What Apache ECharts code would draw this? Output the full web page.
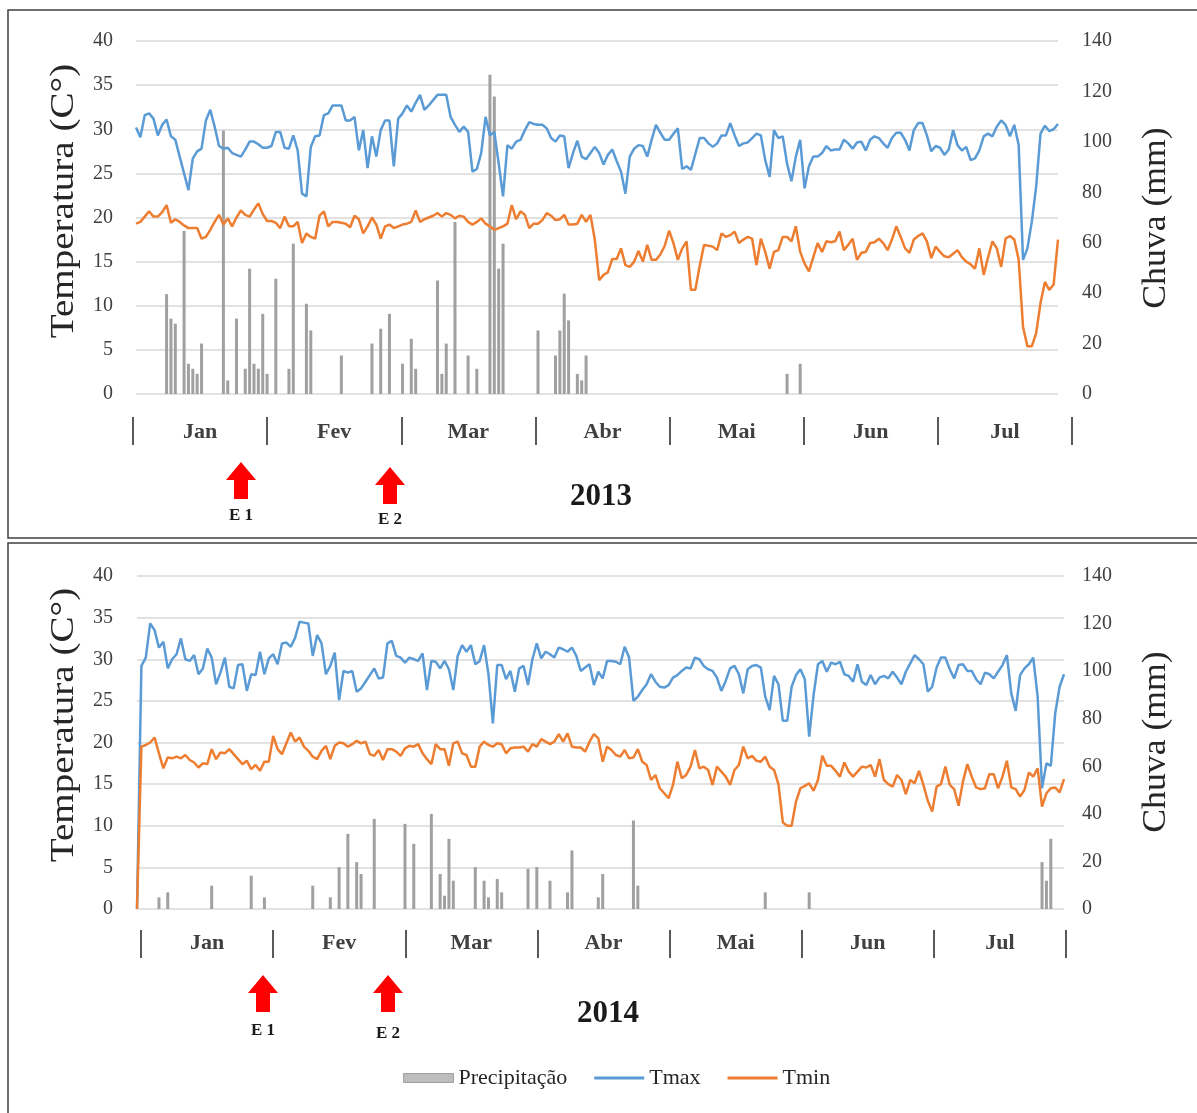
<!DOCTYPE html>
<html>
<head>
<meta charset="utf-8">
<script src="https://cdn.jsdelivr.net/npm/echarts@6/dist/echarts.min.js"></script>
<style>
html, body { margin: 0; padding: 0; background: #fff; }
#main { width: 1197px; height: 1113px; }
</style>
</head>
<body>
<div id="main"></div>
<script>
// categorias
var months = ['Jan', 'Fev', 'Mar', 'Abr', 'Mai', 'Jun', 'Jul'];
var monthDays = [31, 28, 31, 30, 31, 30, 31];

// 2013 - temperatura diaria (C)
var tmax2013 = [
  30.2, 29.1, 31.6, 31.8, 31.2, 29.3, 30.5, 31.1, 29.2, 28.8,
  26.9, 25.0, 23.1, 26.7, 27.5, 27.8, 31.0, 32.2, 30.3, 28.1,
  27.8, 27.9, 27.3, 27.1, 26.9, 27.7, 28.6, 28.6, 28.3, 27.9,
  27.9, 28.1, 29.7, 29.7, 27.9, 27.8, 29.3, 27.6, 22.7, 22.4,
  28.0, 29.2, 29.3, 31.6, 31.8, 32.7, 32.7, 32.7, 31.0, 31.0,
  31.4, 27.6, 29.9, 25.6, 29.2, 26.9, 29.9, 31.0, 31.0, 25.8,
  31.2, 31.8, 32.7, 32.0, 33.0, 33.9, 32.2, 32.7, 33.3, 33.9,
  33.9, 33.9, 31.4,
  30.5, 29.7, 30.3, 29.7, 25.2, 25.5, 27.3, 31.4, 29.3, 29.7,
  26.1, 22.4, 28.2, 27.8, 28.6, 28.8, 29.9, 30.8, 30.6, 30.5,
  30.5, 30.1, 29.0, 28.6, 29.3, 29.2, 25.6, 27.3, 28.7, 26.9,
  26.6, 27.3, 28.0, 27.3, 26.0, 27.1, 27.7, 26.4, 25.2, 22.7,
  26.9, 27.8, 28.2, 28.1, 26.9, 28.8, 30.5, 29.6, 28.8, 28.8,
  29.5, 30.1, 25.5, 25.8, 25.4, 27.2, 29.0, 29.0, 28.4, 28.0,
  28.4, 29.3, 29.3, 30.7, 29.3, 28.1, 28.4, 28.5, 29.0, 29.5,
  29.3, 26.5, 24.6,
  29.9, 29.0, 29.2, 26.1, 24.1, 26.9, 28.8, 23.3, 25.8, 26.9,
  26.9, 27.3, 28.1, 27.6, 27.7, 27.7, 28.8, 28.4, 27.8, 28.5,
  28.6, 27.6, 28.8, 29.2, 29.0, 28.4, 27.9, 29.0, 29.6, 29.6,
  28.8, 27.6, 29.9, 30.7, 30.7, 29.3, 27.5, 28.1, 27.9, 27.1,
  27.7, 29.9, 28.2, 27.6, 28.0, 26.5, 26.7, 27.6, 29.2, 29.5,
  29.2, 30.3, 31.0, 30.5, 29.2, 30.5, 28.2,
  15.2, 16.5, 19.5, 23.5, 29.5, 30.4, 29.8, 30.0, 30.6
];
var tmin2013 = [
  19.3, 19.5, 20.1, 20.7, 20.1, 20.1, 20.6, 21.4, 19.4, 19.8,
  19.5, 19.1, 18.8, 18.8, 18.8, 17.6, 17.8, 18.6, 19.5, 20.3,
  19.2, 19.9, 19.0, 20.0, 20.8, 20.3, 20.1, 20.9, 21.6, 20.4,
  19.6, 19.6, 19.4, 18.8, 20.1, 19.0, 19.0, 19.5, 17.1, 18.2,
  17.8, 17.6, 20.2, 20.7, 19.0, 19.5, 19.5, 19.4, 19.3, 18.9,
  20.2, 19.8, 18.2, 19.0, 20.0, 19.2, 17.6, 19.0, 19.2, 18.8,
  19.0, 19.2, 19.3, 19.5, 20.8, 19.5, 19.8, 20.0, 20.2, 20.5,
  20.1, 20.5, 20.3,
  19.9, 20.2, 20.1, 19.5, 19.2, 19.5, 19.9, 19.3, 19.0, 18.6,
  18.8, 19.0, 19.3, 21.4, 19.8, 20.7, 20.3, 18.8, 19.3, 19.3,
  19.7, 20.5, 20.2, 19.7, 19.8, 20.3, 19.2, 19.2, 19.3, 20.3,
  19.5, 20.3, 17.5, 12.9, 13.5, 13.8, 15.3, 15.3, 16.5, 14.6,
  14.4, 15.0, 16.2, 15.0, 16.9, 15.2, 15.2, 15.8, 16.8, 18.5,
  17.1, 15.2, 16.5, 17.3, 11.8, 11.8, 14.5, 16.9, 16.8, 16.7,
  16.3, 18.2, 17.8, 18.0, 18.4, 17.1, 17.5, 17.8, 17.6, 14.6,
  17.6, 16.1, 14.2, 16.1, 16.3, 17.8, 17.8, 17.3, 19.0, 16.1,
  14.8, 13.9, 15.5, 17.1, 16.1, 17.3, 17.2, 17.3, 18.4, 16.3,
  16.9, 17.6, 15.2, 16.0, 16.1, 17.1, 17.2, 17.6, 17.1, 16.3,
  17.5, 19.0, 17.8, 16.5, 16.0, 17.5, 17.9, 18.2, 17.3, 15.4,
  16.7, 16.1, 15.6, 15.5, 15.9, 16.3, 15.5, 15.0, 14.7, 14.2,
  16.5, 13.5, 15.5, 17.3, 16.5, 14.4, 17.6, 17.9, 17.5, 15.2,
  7.6, 5.4, 5.4, 6.9, 10.3, 12.7, 11.8, 12.4, 17.5
];
// 2013 - chuva (dia do periodo, mm)
var rain2013Day = [7, 8, 9, 11, 12, 13, 14, 15, 20, 21, 23, 25, 26, 27, 28, 29, 30, 32, 35, 36,
  39, 40, 47, 54, 56, 58, 61, 63, 64, 69, 70, 71, 73, 76, 78, 81, 82, 83, 84, 92,
  96, 97, 98, 99, 101, 102, 103, 149, 152];
var rain2013Mm = [39.6, 29.9, 27.9, 64.7, 12, 10, 8, 20, 104.5, 5.4, 29.9, 10, 49.7, 12, 10, 31.8, 8, 45.7, 10, 59.6,
  35.8, 25.2, 15.3, 20, 25.9, 31.8, 12, 21.9, 10, 45, 8, 20, 68.2, 15.3, 10, 126.6, 118, 49.7, 59.6, 25.2,
  15.3, 25.2, 39.8, 29.2, 8, 5.4, 15.3, 8, 12];

// 2014 - temperatura diaria (C)
var tmax2014 = [
  0, 29.2, 30.2, 34.3, 33.5, 31.4, 32.1, 28.9, 30.0, 30.6,
  32.5, 30.0, 29.8, 30.5, 28.2, 28.9, 31.3, 30.2, 27.0, 28.4,
  30.2, 26.7, 26.5, 29.3, 29.4, 26.2, 28.2, 28.1, 30.9, 28.2,
  30.1, 30.6, 29.4, 31.9, 32.0, 31.5, 32.6, 34.5, 34.4, 34.3,
  30.4, 32.9, 31.9, 28.2, 29.2, 30.8, 25.1, 28.6, 28.4, 28.6,
  26.1, 26.5, 27.3, 28.1, 28.9, 27.7, 27.8, 31.9, 32.2, 30.4,
  30.2, 29.6, 30.2, 30.0, 29.8, 30.7, 26.3, 29.8, 29.7, 28.9,
  29.8, 28.8, 26.3,
  30.4, 31.7, 30.9, 31.7, 29.4, 29.8, 31.7, 28.2, 22.3, 29.3,
  29.3, 27.6, 28.6, 26.1, 28.9, 29.2, 26.9, 30.0, 31.9, 30.1,
  30.9, 30.6, 30.2, 31.4, 31.2, 30.9, 31.4, 30.4, 28.6, 29.0,
  29.4, 26.9, 28.5, 27.7, 29.8, 29.8, 29.7, 29.4, 31.5, 30.2,
  25.0, 25.5, 26.3, 27.0, 28.2, 27.3, 26.7, 26.6, 26.9, 27.8,
  28.1, 28.6, 29.0, 28.9, 30.2, 30.0, 29.2, 28.8, 28.6, 27.8,
  26.2, 27.4, 28.9, 29.2, 28.2, 25.9, 28.8, 29.2, 29.3, 29.0,
  25.5, 23.9,
  28.0, 27.0, 22.6, 22.6, 26.7, 28.1, 28.8, 27.6, 20.7, 25.7,
  29.4, 29.8, 28.5, 29.6, 29.4, 29.7, 28.2, 28.0, 27.3, 29.4,
  27.3, 26.9, 28.1, 27.0, 27.8, 28.0, 27.7, 28.5, 27.8, 27.0,
  28.5, 29.5, 30.5, 30.0, 29.4, 26.1, 26.7, 29.0, 30.2, 30.2,
  28.8, 27.7, 29.3, 29.4, 28.6, 28.6, 27.6, 27.0, 28.4, 28.2,
  27.7, 28.5, 29.3, 30.5, 25.9, 23.8, 28.1, 28.9, 29.4, 30.2,
  25.5, 14.5, 17.5, 17.2, 23.5, 26.7, 28.2
];
var tmin2014 = [
  0, 19.5, 19.7, 20.0, 20.6, 18.7, 16.9, 18.2, 18.1, 18.3,
  18.1, 18.5, 17.9, 17.6, 17.0, 17.5, 17.4, 19.2, 18.0, 18.8,
  18.7, 19.2, 18.6, 18.0, 17.4, 17.8, 16.8, 17.3, 16.6, 17.7,
  17.7, 20.8, 19.2, 18.6, 19.9, 21.2, 20.1, 20.6, 19.5, 19.0,
  18.3, 18.0, 19.0, 19.6, 18.0, 19.6, 20.0, 19.9, 19.5, 19.8,
  20.2, 19.9, 20.1, 18.6, 18.4, 19.1, 17.9, 19.2, 19.2, 18.9,
  18.4, 19.3, 19.6, 19.5, 19.8, 18.7, 18.0, 17.4, 19.8, 19.2,
  19.2, 17.2, 19.9,
  20.1, 18.7, 18.5, 17.1, 17.1, 19.5, 20.1, 19.7, 19.5, 19.9,
  19.8, 18.7, 19.3, 19.4, 19.4, 19.5, 18.9, 19.8, 19.5, 20.4,
  20.1, 19.8, 20.1, 21.0, 20.1, 21.1, 19.5, 19.4, 19.4, 18.9,
  20.1, 21.0, 20.5, 17.7, 19.5, 19.1, 18.5, 18.3, 19.1, 18.1,
  18.2, 19.2, 17.7, 17.3, 15.5, 16.1, 14.5, 13.9, 13.3, 14.9,
  17.7, 15.7, 16.1, 17.1, 19.1, 16.9, 17.1, 16.7, 14.9, 17.1,
  16.5, 15.9, 14.9, 16.7, 17.3, 19.5, 18.1, 18.4, 17.8, 17.7,
  18.3, 17.1,
  16.7, 15.0, 10.4, 10.0, 10.0, 12.9, 14.5, 14.8, 15.1, 14.2,
  15.5, 18.4, 17.2, 17.2, 16.6, 15.9, 17.6, 16.5, 15.9, 16.5,
  17.1, 17.0, 17.3, 15.9, 18.0, 15.5, 15.0, 14.7, 16.1, 15.5,
  13.8, 15.5, 15.1, 16.6, 14.9, 13.0, 11.7, 14.7, 15.0, 17.1,
  14.9, 14.4, 12.4, 15.3, 17.4, 15.9, 14.6, 14.4, 14.5, 16.2,
  16.2, 14.5, 15.9, 17.8, 14.6, 14.4, 13.5, 14.3, 16.4, 15.9,
  16.9, 12.3, 13.9, 14.5, 14.6, 14.0, 15.6
];
// 2014 - chuva (dia do periodo, mm)
var rain2014Day = [5, 7, 17, 26, 29, 40, 44, 46, 48, 50, 51, 54, 61, 63, 67, 69, 70, 71, 72, 77,
  79, 80, 82, 83, 89, 91, 94, 98, 99, 105, 106, 113, 114, 143, 153, 206, 207, 208];
var rain2014Mm = [4.9, 7.0, 9.8, 14.0, 4.9, 9.8, 4.9, 17.6, 31.6, 19.7, 14.7, 37.9, 35.8, 27.4, 40.0, 14.7, 5.6, 29.5, 11.9, 17.6,
  11.9, 4.9, 12.6, 7.0, 16.9, 17.6, 11.9, 7.0, 24.6, 4.9, 14.7, 37.2, 9.8, 7.0, 7.0, 19.7, 11.9, 29.5];

var tempTicks = { min: 0, max: 40, interval: 5 };
var rainTicks = { min: 0, max: 140, interval: 20 };

// dias jan-jul como categorias
var days = [];
for (var m = 0; m < monthDays.length; m++) {
  for (var d = 1; d <= monthDays[m]; d++) days.push(d + '/' + (m + 1));
}

function dailyRain(dayIdx, mm) {
  var out = days.map(function () { return null; });
  for (var i = 0; i < dayIdx.length; i++) out[dayIdx[i]] = mm[i];
  return out;
}

var SERIF = 'Liberation Serif';
var gridColor = '#d9d9d9';
var labelColor = '#404040';
var lineIcon = 'path://M0,0 L50,0 L50,3 L0,3 Z';

function tempAxis(grid, margin) {
  return {
    gridIndex: grid, type: 'value', position: 'left',
    min: tempTicks.min, max: tempTicks.max, interval: tempTicks.interval,
    axisLine: { show: false }, axisTick: { show: false },
    axisLabel: { margin: margin, fontFamily: SERIF, fontSize: 20, color: labelColor },
    splitLine: { lineStyle: { color: gridColor, width: 1.5 } }
  };
}
function rainAxis(grid, margin) {
  return {
    gridIndex: grid, type: 'value', position: 'right',
    min: rainTicks.min, max: rainTicks.max, interval: rainTicks.interval,
    axisLine: { show: false }, axisTick: { show: false },
    axisLabel: { margin: margin, fontFamily: SERIF, fontSize: 20, color: labelColor },
    splitLine: { show: false }
  };
}
function monthAxis(grid, margin) {
  return {
    gridIndex: grid, type: 'category', data: months, boundaryGap: true,
    axisLine: { show: false },
    axisTick: { show: true, length: 28, lineStyle: { color: '#595959', width: 2 } },
    axisLabel: { margin: margin, fontFamily: SERIF, fontSize: 22, fontWeight: 'bold', color: labelColor },
    splitLine: { show: false }
  };
}
function dayAxis(grid) {
  return { gridIndex: grid, type: 'category', data: days, boundaryGap: false, show: false };
}

function arrow(cx, ty) {
  return {
    type: 'polygon',
    shape: { points: [[cx, ty], [cx + 15, ty + 18], [cx + 7, ty + 18], [cx + 7, ty + 37],
                      [cx - 7, ty + 37], [cx - 7, ty + 18], [cx - 15, ty + 18]] },
    style: { fill: '#ff0000' }
  };
}
function label(x, y, text, size, bold) {
  return {
    type: 'text', x: x, y: y,
    style: { text: text, fill: '#1a1a1a', font: (bold ? 'bold ' : '') + size + 'px "' + SERIF + '"',
             align: 'center', verticalAlign: 'middle' }
  };
}
function vtitle(x, y, text, stretch) {
  return {
    type: 'text', x: x, y: y, rotation: Math.PI / 2, scaleX: stretch,
    style: { text: text, fill: '#262626', font: '34px "' + SERIF + '"', align: 'center', verticalAlign: 'middle' }
  };
}

var chart = echarts.init(document.getElementById('main'));
var option = {
  animation: false,
  backgroundColor: '#fff',
  textStyle: { fontFamily: SERIF },
  grid: [
    { left: 136, right: 139, top: 41, height: 353 },
    { left: 133, right: 125, top: 399, height: 18 },
    { left: 137, right: 133, top: 576, height: 333 },
    { left: 141, right: 131, top: 912, height: 18 }
  ],
  xAxis: [dayAxis(0), monthAxis(1, 4), dayAxis(2), monthAxis(3, 2)],
  yAxis: [
    tempAxis(0, 23), rainAxis(0, 24), { gridIndex: 1, type: 'value', show: false },
    tempAxis(2, 24), rainAxis(2, 18), { gridIndex: 3, type: 'value', show: false }
  ],
  legend: {
    left: 398, top: 1062, itemWidth: 50, itemHeight: 9, itemGap: 27,
    data: [
      { name: 'Precipitação', icon: 'rect', itemStyle: { color: '#bdbdbd', borderColor: '#a0a0a0', borderWidth: 1 } },
      { name: 'Tmax', icon: lineIcon },
      { name: 'Tmin', icon: lineIcon }
    ],
    textStyle: { fontFamily: SERIF, fontSize: 22, color: '#262626' }
  },
  series: [
    { name: 'Precipitação', type: 'bar', xAxisIndex: 0, yAxisIndex: 1, data: dailyRain(rain2013Day, rain2013Mm),
      barWidth: 3, itemStyle: { color: '#a0a0a0' } },
    { name: 'Tmax', type: 'line', xAxisIndex: 0, yAxisIndex: 0, data: tmax2013, symbol: 'none',
      lineStyle: { color: '#5b9bd5', width: 2.5 }, itemStyle: { color: '#5b9bd5' } },
    { name: 'Tmin', type: 'line', xAxisIndex: 0, yAxisIndex: 0, data: tmin2013, symbol: 'none',
      lineStyle: { color: '#ed7d31', width: 2.5 }, itemStyle: { color: '#ed7d31' } },
    { name: 'Precipitação', type: 'bar', xAxisIndex: 2, yAxisIndex: 4, data: dailyRain(rain2014Day, rain2014Mm),
      barWidth: 3, itemStyle: { color: '#a0a0a0' } },
    { name: 'Tmax', type: 'line', xAxisIndex: 2, yAxisIndex: 3, data: tmax2014, symbol: 'none',
      lineStyle: { color: '#5b9bd5', width: 2.5 }, itemStyle: { color: '#5b9bd5' } },
    { name: 'Tmin', type: 'line', xAxisIndex: 2, yAxisIndex: 3, data: tmin2014, symbol: 'none',
      lineStyle: { color: '#ed7d31', width: 2.5 }, itemStyle: { color: '#ed7d31' } }
  ],
  graphic: [
    { type: 'rect', shape: { x: 8, y: 10, width: 1192, height: 528 }, style: { fill: 'none', stroke: '#404040', lineWidth: 1.5 } },
    { type: 'rect', shape: { x: 8, y: 543, width: 1192, height: 600 }, style: { fill: 'none', stroke: '#404040', lineWidth: 1.5 } },
    vtitle(64, 201, 'Temperatura (C°)', 1.15),
    vtitle(1156, 218, 'Chuva (mm)', 1.05),
    vtitle(64, 725, 'Temperatura (C°)', 1.15),
    vtitle(1156, 742, 'Chuva (mm)', 1.05),
    arrow(241, 462), label(241, 516, 'E 1', 17, true),
    arrow(390, 467), label(390, 520, 'E 2', 17, true),
    label(601, 497, '2013', 31, true),
    arrow(263, 975), label(263, 1031, 'E 1', 17, true),
    arrow(388, 975), label(388, 1034, 'E 2', 17, true),
    label(608, 1014, '2014', 31, true)
  ]
};
chart.setOption(option);
</script>
</body>
</html>
